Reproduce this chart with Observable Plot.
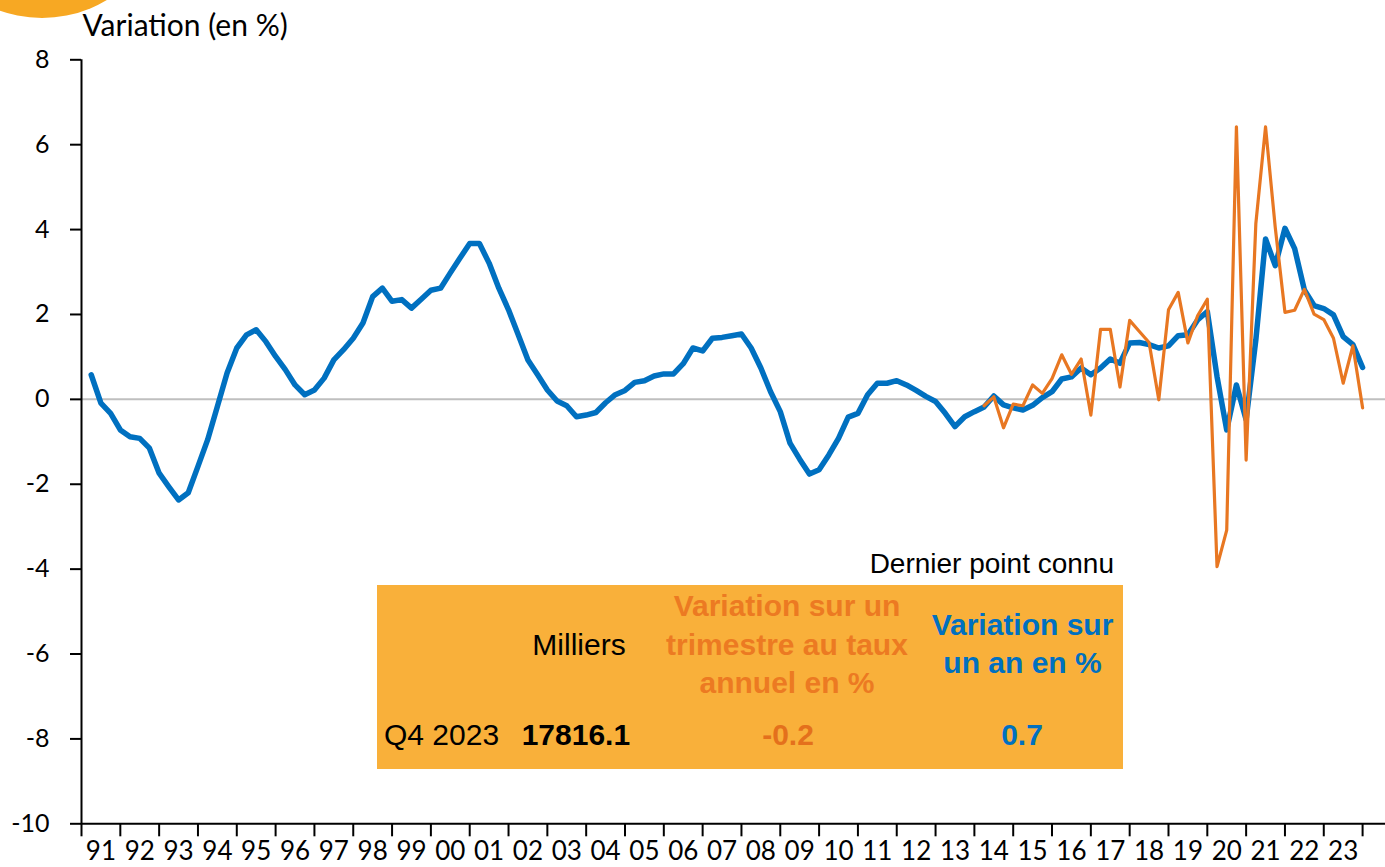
<!DOCTYPE html>
<html><head><meta charset="utf-8">
<script src="https://cdn.jsdelivr.net/npm/d3@7"></script>
<script src="https://cdn.jsdelivr.net/npm/@observablehq/plot@0.6"></script>
<style>
body{margin:0;background:#fff;}
#wrap{position:relative;width:1385px;height:867px;overflow:hidden;background:#fff;}
#wrap svg{position:absolute;left:0;top:0;}
.t{position:absolute;white-space:nowrap;font-family:"Liberation Sans",Arial,sans-serif;}
</style></head><body><div id="wrap"></div>
<script>
// ---- Data ----
const years = [1991,1992,1993,1994,1995,1996,1997,1998,1999,2000,2001,2002,2003,2004,2005,2006,2007,2008,2009,2010,2011,2012,2013,2014,2015,2016,2017,2018,2019,2020,2021,2022,2023];
const yearLabels = ["91","92","93","94","95","96","97","98","99","00","01","02","03","04","05","06","07","08","09","10","11","12","13","14","15","16","17","18","19","20","21","22","23"];
const yTicks = [-10,-8,-6,-4,-2,0,2,4,6,8];

// Variation sur un an en % (quarterly, 1991 Q1 - 2023 Q4)
const variationAnnuelle = [
  0.58,-0.09,-0.33,-0.72,  -0.88,-0.92,-1.15,-1.74,  -2.06,-2.37,-2.20,-1.58,  -0.95,-0.17,0.62,1.21,
  1.52,1.64,1.36,1.01,     0.70,0.34,0.11,0.22,      0.50,0.93,1.17,1.44,     1.80,2.42,2.62,2.31,
  2.35,2.15,2.36,2.57,     2.62,2.98,3.33,3.67,      3.67,3.21,2.62,2.11,     1.52,0.93,0.58,0.22,
  -0.04,-0.15,-0.41,-0.37, -0.31,-0.08,0.11,0.21,    0.40,0.44,0.55,0.60,     0.60,0.84,1.21,1.14,
  1.44,1.46,1.50,1.54,     1.21,0.74,0.18,-0.29,     -1.03,-1.41,-1.76,-1.66, -1.31,-0.92,-0.42,-0.33,
  0.11,0.38,0.38,0.44,     0.34,0.21,0.07,-0.05,     -0.33,-0.64,-0.41,-0.29, -0.18,0.08,-0.13,-0.20,
  -0.25,-0.14,0.04,0.18,   0.48,0.53,0.74,0.58,      0.74,0.95,0.85,1.33,     1.34,1.29,1.21,1.26,
  1.50,1.52,1.87,2.07,     0.54,-0.72,0.34,-0.48,    1.40,3.78,3.15,4.03,     3.55,2.58,2.21,2.14,
  1.99,1.48,1.29,0.75
];
const startAnnuelle = 1991;

// Variation sur un trimestre au taux annuel en % (2014 Q1 - 2023 Q4)
const variationTrimestrielle = [
  -0.15,0.06,-0.67,-0.11,  -0.15,0.34,0.14,0.49,  1.05,0.59,0.95,-0.37,  1.65,1.65,0.29,1.86,
  1.60,1.34,-0.01,2.11,    2.52,1.33,1.97,2.36,   -3.94,-3.08,6.42,-1.43, 4.14,6.42,4.05,2.05,
  2.10,2.59,2.01,1.88,     1.44,0.38,1.26,-0.20
];
const startTrimestrielle = 2014;

// Table "Dernier point connu"
const tableHeaders = ["Milliers", "Variation sur un\ntrimestre au taux\nannuel en %", "Variation sur\nun an en %"];
const tableRow = ["Q4 2023", "17816.1", "-0.2", "0.7"];

// ---- Build series (each quarter plotted at its end) ----
const blue = variationAnnuelle.map((v, i) => ({t: startAnnuelle + (i + 1) / 4, v}));
const orange = variationTrimestrielle.map((v, i) => ({t: startTrimestrielle + (i + 1) / 4, v}));
const yearBounds = years.concat([years[years.length - 1] + 1]);
const yearMids = years.map(y => y + 0.5);

const BLUE = "#0070C0", ORANGE = "#E87722";

const chart = Plot.plot({
  width: 1385, height: 867,
  marginLeft: 81, marginRight: 0, marginTop: 59.3, marginBottom: 43.7,
  style: {fontFamily: "Lato, sans-serif", fontSize: "25px", color: "black", background: "transparent", overflow: "visible"},
  x: {type: "linear", domain: [1991, 2024.59]},
  y: {domain: [-10, 8]},
  marks: [
    Plot.ruleY([0], {stroke: "#BFBFBF", strokeWidth: 2}),
    Plot.ruleY([-10], {stroke: "black", strokeWidth: 2}),
    Plot.ruleX([1991], {y1: -10, y2: 8, stroke: "black", strokeWidth: 2}),
    Plot.axisY(yTicks, {tickSize: 11, tickPadding: 21, strokeWidth: 2, fontSize: 25, label: null, tickFormat: d => String(d)}),
    Plot.axisX(yearBounds, {tickSize: 13, strokeWidth: 2, label: null, tickFormat: () => ""}),
    Plot.axisX(yearMids, {tickSize: 0, tickPadding: 18, fontSize: 26, label: null,
      tickFormat: d => yearLabels[years.indexOf(Math.floor(d))]}),
    Plot.line(blue, {x: "t", y: "v", stroke: BLUE, strokeWidth: 5.5}),
    Plot.line(orange, {x: "t", y: "v", stroke: ORANGE, strokeWidth: 3.2}),
    Plot.text(["Variation (en %)"], {frameAnchor: "top-left", text: d => d, dx: 1, dy: -24,
      lineAnchor: "bottom", textAnchor: "start", fontSize: 30, fill: "black"})
  ]
});
const wrap = document.getElementById("wrap");

// decorative circle (logo) top-left
const circ = document.createElement("div");
Object.assign(circ.style, {position: "absolute", left: "-84px", top: "-234px", width: "252px", height: "252px",
  borderRadius: "50%", background: "#F7A823"});
wrap.appendChild(circ);

// annotation box
const box = document.createElement("div");
Object.assign(box.style, {position: "absolute", left: "377px", top: "585px", width: "746px", height: "184px", background: "#F9B03A"});
wrap.appendChild(box);
wrap.appendChild(chart);

function place(text, x, baseline, anchor, size, weight, color) {
  const d = document.createElement("div");
  d.className = "t";
  d.textContent = text;
  d.style.fontSize = size + "px";
  d.style.lineHeight = size + "px";
  d.style.fontWeight = weight;
  d.style.color = color;
  d.style.top = (baseline - 0.8465 * size) + "px";
  if (anchor === "start") d.style.left = x + "px";
  else if (anchor === "end") d.style.right = (1385 - x) + "px";
  else { d.style.left = x + "px"; d.style.transform = "translateX(-50%)"; }
  wrap.appendChild(d);
}
place("Dernier point connu", 1114, 574, "end", 28, "normal", "black");
place(tableHeaders[0], 579, 655, "middle", 30, "normal", "black");
tableHeaders[1].split("\n").forEach((l, i) => place(l, 787, 616.7 + i * 38.3, "middle", 30, "bold", "#EC7A22"));
tableHeaders[2].split("\n").forEach((l, i) => place(l, 1022.5, 635 + i * 38.3, "middle", 30, "bold", BLUE));
place(tableRow[0], 384, 745, "start", 30, "normal", "black");
place(tableRow[1], 521.7, 745, "start", 30, "bold", "black");
place(tableRow[2], 788, 745, "middle", 30, "bold", "#E4701C");
place(tableRow[3], 1022, 745, "middle", 30, "bold", BLUE);
</script></body></html>
